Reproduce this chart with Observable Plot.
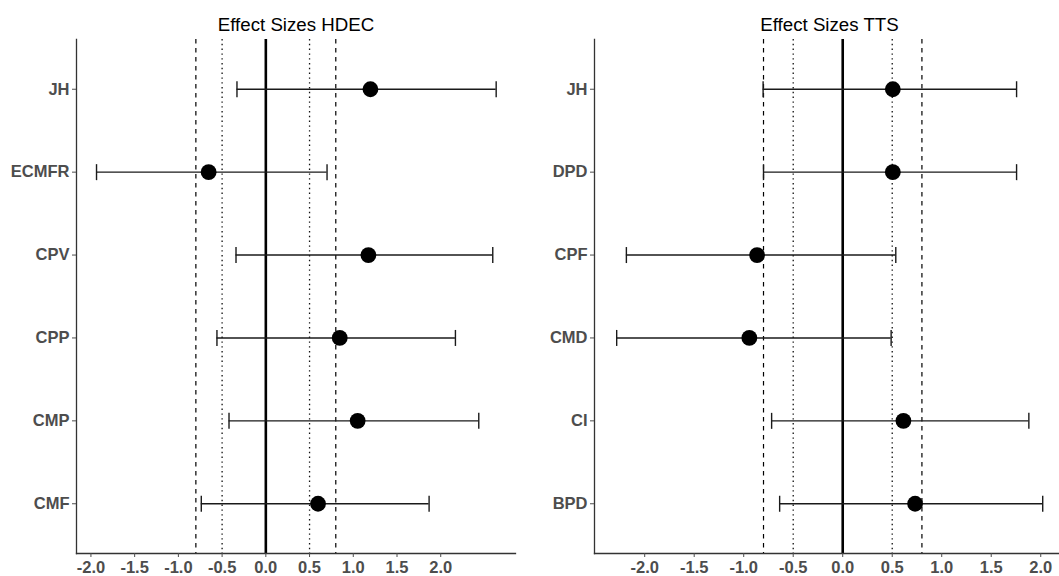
<!DOCTYPE html>
<html><head><meta charset="utf-8">
<script src="https://cdn.jsdelivr.net/npm/d3@7"></script>
<script src="https://cdn.jsdelivr.net/npm/@observablehq/plot@0.6"></script>
<style>
html,body{margin:0;padding:0;background:#fff;overflow:hidden;width:1059px;height:576px}
#wrap{position:relative;width:1059px;height:576px;overflow:hidden}
#wrap svg{position:absolute;top:0}
</style></head><body><div id="wrap"></div>
<script>
// HDEC panel
const hdecCategories = ["JH","ECMFR","CPV","CPP","CMP","CMF"];
const hdecEffect = [1.196,-0.654,1.173,0.845,1.05,0.597];
const hdecLower  = [-0.33,-1.936,-0.341,-0.559,-0.421,-0.738];
const hdecUpper  = [2.634,0.70,2.595,2.168,2.435,1.867];
// TTS panel
const ttsCategories = ["JH","DPD","CPF","CMD","CI","BPD"];
const ttsEffect = [0.506,0.506,-0.865,-0.943,0.613,0.731];
const ttsLower  = [-0.804,-0.80,-2.185,-2.283,-0.718,-0.637];
const ttsUpper  = [1.756,1.756,0.536,0.489,1.88,2.02];
// reference lines and ticks
const xTicks = [-2,-1.5,-1,-0.5,0,0.5,1,1.5,2];
const smallEffect = [-0.5,0.5];
const largeEffect = [-0.8,0.8];
const zeroLine = [0];

const font = "'Liberation Sans', Arial, Helvetica, sans-serif";
const cap = {draw(ctx){ ctx.moveTo(0,-8); ctx.lineTo(0,8); }};

function panel({title, cats, eff, lo, hi, xDomain, left, width, marginLeft, marginRight}) {
  const data = cats.map((c,i)=>({cat:c, eff:eff[i], lo:lo[i], hi:hi[i]}));
  const svg = Plot.plot({
    width, height:576, marginLeft, marginRight, marginTop:39, marginBottom:23,
    style:{fontFamily:font, background:"white", overflow:"visible"},
    x:{domain:xDomain, ticks:xTicks, tickFormat:d=>d.toFixed(1)},
    y:{type:"point", domain:cats, padding:0.6, round:false},
    marks:[
      Plot.ruleX(largeEffect,{stroke:"black",strokeWidth:1.2,strokeDasharray:"4.5,4.5"}),
      Plot.ruleX(smallEffect,{stroke:"#111",strokeWidth:1.3,strokeDasharray:"1.4,3.4"}),
      Plot.ruleX(zeroLine,{stroke:"black",strokeWidth:2.6}),
      Plot.ruleY(data,{y:"cat",x1:"lo",x2:"hi",stroke:"#1a1a1a",strokeWidth:1.4}),
      Plot.dot(data,{x:"lo",y:"cat",symbol:cap,stroke:"#1a1a1a",fill:"none",strokeWidth:1.4}),
      Plot.dot(data,{x:"hi",y:"cat",symbol:cap,stroke:"#1a1a1a",fill:"none",strokeWidth:1.4}),
      Plot.dot(data,{x:"eff",y:"cat",r:7.9,fill:"black",stroke:"none"}),
      Plot.frame({anchor:"left", stroke:"#333", strokeWidth:1.3}),
      Plot.frame({anchor:"bottom", stroke:"#333", strokeWidth:1.3}),
      Plot.axisY({tickSize:4, tickPadding:3, fontSize:16.5, fontWeight:"bold", color:"#4d4d4d", label:null}),
      Plot.axisX({ticks:xTicks, tickFormat:d=>d.toFixed(1), tickSize:4, tickPadding:4, fontSize:16.5, fontWeight:"bold", color:"#4d4d4d", label:null}),
      Plot.text([title], {frameAnchor:"top", lineAnchor:"bottom", dy:-9, fontSize:18.7, fill:"black"})
    ]
  });
  svg.style.left = left + "px";
  document.getElementById("wrap").appendChild(svg);
}

panel({title:"Effect Sizes HDEC", cats:hdecCategories, eff:hdecEffect, lo:hdecLower, hi:hdecUpper,
  xDomain:[-2.165, 2.855], left:0, width:530, marginLeft:76, marginRight:15});
panel({title:"Effect Sizes TTS", cats:ttsCategories, eff:ttsEffect, lo:ttsLower, hi:ttsUpper,
  xDomain:[-2.507, 2.24], left:530, width:535, marginLeft:64, marginRight:1});
</script></body></html>
